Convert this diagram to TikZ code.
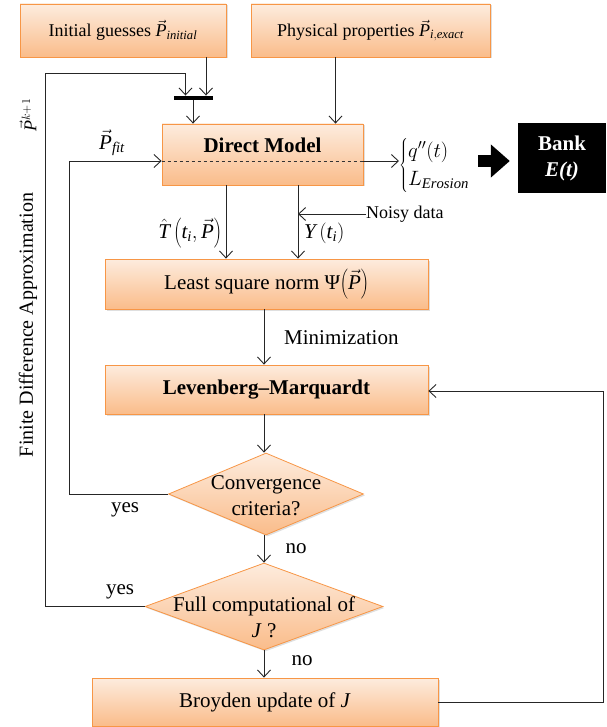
\documentclass[tikz,border=0pt]{standalone}
\usepackage{fontspec}
\setmainfont{Liberation Serif}
\usetikzlibrary{arrows.meta,shapes.geometric,shadows,calc}
\definecolor{obord}{RGB}{247,150,70}
\definecolor{otop}{RGB}{253,236,222}
\definecolor{obot}{RGB}{250,188,138}
\tikzset{
  box/.style={draw=obord, line width=0.8pt, top color=otop, bottom color=obot,
    drop shadow={opacity=0.25, shadow xshift=1.5pt, shadow yshift=-1.5pt},
    inner sep=0pt, align=center},
  dec/.style={diamond, draw=obord, line width=0.8pt, top color=otop, bottom color=obot,
    drop shadow={opacity=0.25, shadow xshift=1.5pt, shadow yshift=-1.5pt}, inner sep=0pt},
  arr/.style={draw=black!85, line width=0.9pt, -{Straight Barb[length=7pt,width=13pt]}},
  ln/.style={draw=black!85, line width=0.9pt},
  big/.style={font=\fontsize{21}{26}\selectfont},
  bigb/.style={font=\bfseries\fontsize{21}{26}\selectfont},
  small/.style={font=\fontsize{18}{22}\selectfont},
  fat/.style={line width=12pt, -{Triangle[length=19pt,width=32pt]}},
}
\begin{document}
\begin{tikzpicture}[x=1pt,y=-1pt]
\useasboundingbox (0,0) rectangle (606,727);
% boxes
\node[box, small, minimum width=206pt, minimum height=53pt] (init) at (123,30.5)
  {Initial guesses $\vec{\mathit{P}}_{\mathit{initial}}$};
\node[box, small, minimum width=239pt, minimum height=53pt] (phys) at (370.5,30.5)
  {Physical properties $\vec{\mathit{P}}_{\mathit{i,exact}}$};
\node[fill=black, minimum width=39pt, minimum height=4.5pt, inner sep=0pt] (bar) at (193,98) {};
\node[box, minimum width=201pt, minimum height=61pt] (dm) at (262.5,154.5) {};
\node[bigb] (dmt) at (262.5,145) {Direct Model};
\node[box, big, minimum width=323pt, minimum height=50pt] (ls) at (266.5,284)
  {Least square norm Ψ$\left(\vec{\mathit{P}}\right)$};
\node[box, bigb, minimum width=323pt, minimum height=49pt] (lm) at (266.5,389.5)
  {Levenberg–Marquardt};
\node[dec, minimum width=195pt, minimum height=82pt] (conv) at (266,494) {};
\node[big, align=center] (convt) at (266,496) {Convergence\\criteria?};
\node[dec, minimum width=238pt, minimum height=87pt] (full) at (264,606.5) {};
\node[big, align=center] (fullt) at (264,617) {Full computational of\\\textit{J} ?};
\node[box, big, minimum width=346pt, minimum height=48pt] (broy) at (265,702)
  {Broyden update of \textit{J}};
\node[fill=black, text=white, bigb, align=center, minimum width=88pt, minimum height=70pt,
  inner sep=0pt] (bank) at (562,158) {Bank\\\textit{E(t)}};
% output of direct model
\node[anchor=west, inner sep=0pt, big] (outs) at (399,166)
  {$\left\{\begin{array}{@{}l@{}} q''\!\left(t\right)\\[2pt] L_{\mathit{Erosion}}\end{array}\right.$};
\coordinate (dmr) at ($(dm.east)+(0,6.5)$);
\coordinate (dml) at ($(dm.west)+(0,6.5)$);
\draw[dashed, line width=0.8pt, black!80] (dml) -- (dmr);
\draw[arr] (dmr) -- (outs.west |- dmr);
\draw[fat] ([xshift=8pt]outs.east |- dmr) -- ([xshift=-8pt]bank.west |- dmr);
% top arrows
\coordinate (c2) at (45,73);
\draw[arr] (full.west) -| (c2) -| ([xshift=-7.5pt]bar.north);
\draw[arr] ([xshift=13pt]bar.north |- init.south) -- ([xshift=13pt]bar.north);
\draw[arr] (bar.south) -- (bar.south |- dm.north);
\draw[arr] ([xshift=-35pt]phys.south) -- ([xshift=-35pt]phys.south |- dm.north);
% p fit loop
\coordinate (c1) at (69,161);
\draw[arr] (conv.west) -| (c1) -- (dml);
\node[big] (pfit) at (112,143) {$\vec{\mathit{P}}_{\mathit{fit}}$};
% DM to LS
\coordinate (tx) at ([xshift=-36.5pt]dm.south);
\coordinate (yx) at ([xshift=35.5pt]dm.south);
\draw[arr] (tx) -- (tx |- ls.north);
\draw[arr] (yx) -- (yx |- ls.north);
\node[anchor=west, small, inner sep=0pt] (noisy) at (366,214) {Noisy data};
\draw[arr] (noisy.west) -- (noisy.west -| yx);
\node[anchor=east, big, inner sep=0pt] (that) at (222,233)
  {$\hat{\mathit{T}}\left(\mathit{t}_{\mathit{i}},\vec{\mathit{P}}\right)$};
\node[anchor=west, big, inner sep=0pt] (yt) at (304,233)
  {$\mathit{Y}\left(\mathit{t}_{\mathit{i}}\right)$};
% LS to LM
\coordinate (mx) at (264,0);
\draw[arr] (ls.south -| mx) -- (lm.north -| mx);
\node[anchor=west, big, inner sep=0pt] (minl) at (284,338) {Minimization};
\draw[arr] (lm.south -| mx) -- (conv.north -| mx);
\draw[arr] (conv.south -| mx) -- (full.north -| mx);
\draw[arr] (full.south -| mx) -- (broy.north -| mx);
\node[big, inner sep=0pt] (yes1) at (125,510) {yes};
\node[big, inner sep=0pt] (no1) at (296,549) {no};
\node[big, inner sep=0pt] (yes2) at (120,592) {yes};
\node[big, inner sep=0pt] (no2) at (302,661) {no};
% right loop
\coordinate (c3) at (603,391);
\draw[arr] (broy.east) -| (c3) -- (lm.east |- c3);
% rotated labels
\node[rotate=90, font=\fontsize{20}{24}\selectfont] (fda) at (28,325) {Finite Difference Approximation};
\node[rotate=90, small] (pk) at (28,115) {$\vec{\mathit{P}}^{k+1}$};
\end{tikzpicture}
\end{document}
